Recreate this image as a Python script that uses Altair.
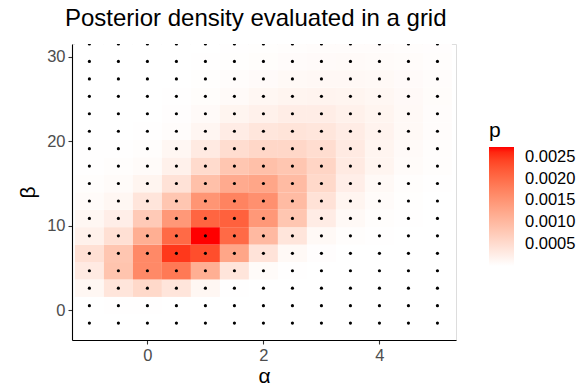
import altair as alt
import pandas as pd

# grid coordinates
alphas = [-1.0, -0.5, 0.0, 0.5, 1.0, 1.5, 2.0, 2.5, 3.0, 3.5, 4.0, 4.5, 5.0]
betas = [-1.5, 0.5625, 2.625, 4.6875, 6.75, 8.8125, 10.875, 12.9375, 15.0,
         17.0625, 19.125, 21.1875, 23.25, 25.3125, 27.375, 29.4375, 31.5]

# posterior density per grid cell, one row per beta (bottom to top), columns follow alphas
p_rows = [
    [0, 0, 0, 0, 0, 0, 0, 0, 0, 0, 0, 0, 0],
    [0.5e-5, 1.4e-5, 1.4e-5, 0.5e-5, 0, 0, 0, 0, 0, 0, 0, 0, 0],
    [12e-5, 37e-5, 55e-5, 37e-5, 12e-5, 1.4e-5, 0, 0, 0, 0, 0, 0, 0],
    [30e-5, 85e-5, 165e-5, 185e-5, 115e-5, 37e-5, 6e-5, 1.4e-5, 0, 0, 0, 0, 0],
    [45e-5, 82e-5, 165e-5, 250e-5, 232e-5, 127e-5, 40e-5, 9e-5, 2.2e-5, 0, 0, 0, 0],
    [21e-5, 45e-5, 115e-5, 203e-5, 272e-5, 203e-5, 100e-5, 37e-5, 9e-5, 2.7e-5, 0.8e-5, 0, 0],
    [12e-5, 24e-5, 76e-5, 145e-5, 208e-5, 213e-5, 145e-5, 82e-5, 27e-5, 9e-5, 2.7e-5, 0.8e-5, 0],
    [6e-5, 12e-5, 37e-5, 82e-5, 150e-5, 173e-5, 156e-5, 97e-5, 42e-5, 15e-5, 6e-5, 1.6e-5, 0.5e-5],
    [3e-5, 6e-5, 15e-5, 42e-5, 91e-5, 121e-5, 127e-5, 97e-5, 55e-5, 24e-5, 9e-5, 3e-5, 1.1e-5],
    [1.4e-5, 3e-5, 6e-5, 21e-5, 52e-5, 82e-5, 91e-5, 82e-5, 61e-5, 30e-5, 15e-5, 6e-5, 3e-5],
    [0.8e-5, 1.4e-5, 3e-5, 12e-5, 30e-5, 49e-5, 58e-5, 58e-5, 49e-5, 30e-5, 15e-5, 7.5e-5, 3e-5],
    [0.3e-5, 0.5e-5, 1.4e-5, 4.5e-5, 13.5e-5, 27e-5, 36e-5, 39e-5, 36e-5, 27e-5, 18e-5, 9e-5, 4.5e-5],
    [0, 0.3e-5, 0.5e-5, 2.4e-5, 7.5e-5, 15e-5, 21e-5, 25.5e-5, 25.5e-5, 21e-5, 15e-5, 9e-5, 4.5e-5],
    [0, 0, 0.3e-5, 1.2e-5, 3.6e-5, 7.5e-5, 12e-5, 15e-5, 16.5e-5, 15e-5, 12e-5, 8.4e-5, 4.8e-5],
    [0, 0, 0, 0.5e-5, 1.8e-5, 3.9e-5, 6.6e-5, 9e-5, 10.5e-5, 10.2e-5, 9e-5, 6.6e-5, 4.2e-5],
    [0, 0, 0, 0.3e-5, 0.9e-5, 2.1e-5, 3.6e-5, 5.4e-5, 6.6e-5, 6.9e-5, 6.3e-5, 4.8e-5, 3.3e-5],
    [0, 0, 0, 0, 0.3e-5, 1.2e-5, 2.1e-5, 3.3e-5, 4.2e-5, 4.5e-5, 4.2e-5, 3.3e-5, 2.4e-5],
]

legend_values = [0.0005, 0.0010, 0.0015, 0.0020, 0.0025]
x_ticks = [0, 2, 4]
y_ticks = [0, 10, 20, 30]

rows = []
for bi, b in enumerate(betas):
    for ai, a in enumerate(alphas):
        rows.append({"alpha": a, "beta": b, "p": p_rows[bi][ai]})
df = pd.DataFrame(rows)

FONT = "Liberation Sans"
half_a = (alphas[1] - alphas[0]) / 2
half_b = (betas[1] - betas[0]) / 2

xscale = alt.Scale(domain=[-1.3, 5.32], nice=False, zero=False)
yscale = alt.Scale(domain=[-3.5, 31.5], nice=False, zero=False)

xaxis = alt.Axis(values=x_ticks, title="α", grid=False, domainColor="black", domainWidth=1.1,
                 tickColor="#333333", tickSize=4, tickWidth=1.1, labelColor="#4D4D4D",
                 labelFontSize=16.5, labelFont=FONT, labelPadding=3, titleFont=FONT,
                 titleFontSize=21, titleFontWeight="normal", titleColor="black",
                 titleBaseline="alphabetic", titleY=42)
yaxis = alt.Axis(values=y_ticks, title="β", grid=False, domainColor="black", domainWidth=1.1,
                 tickColor="#333333", tickSize=4, tickWidth=1.1, labelColor="#4D4D4D",
                 labelFontSize=16.5, labelFont=FONT, labelPadding=3, titleFont=FONT,
                 titleFontSize=21, titleFontWeight="normal", titleColor="black", titlePadding=8)

tiles = alt.Chart(df).transform_calculate(
    a0=f"datum.alpha - {half_a}", a1=f"datum.alpha + {half_a}",
    b0=f"datum.beta - {half_b}", b1=f"datum.beta + {half_b}",
).mark_rect(clip=True, strokeWidth=0).encode(
    x=alt.X("a0:Q", scale=xscale, axis=xaxis),
    x2="a1:Q",
    y=alt.Y("b0:Q", scale=yscale, axis=yaxis),
    y2="b1:Q",
    color=alt.Color("p:Q",
                    scale=alt.Scale(domain=[0, 0.00272], range=["#FFFFFF", "#FF0000"],
                                    interpolate="lab", nice=False, zero=False),
                    legend=alt.Legend(title="p", values=legend_values, format=".4f",
                                      orient="none", legendX=417, legendY=76,
                                      gradientLength=119, gradientThickness=25,
                                      gradientStrokeWidth=0, labelFont=FONT,
                                      labelFontSize=16.5, labelColor="black",
                                      labelOffset=11, titleFont=FONT, titleFontSize=21,
                                      titleFontWeight="normal", titlePadding=6,
                                      tickCount=5)),
)

points = alt.Chart(df).mark_point(filled=True, color="black", size=10, opacity=1, clip=True).encode(
    x=alt.X("alpha:Q", scale=xscale, axis=xaxis),
    y=alt.Y("beta:Q", scale=yscale, axis=yaxis),
)

chart = alt.layer(tiles, points).properties(
    width=384, height=296,
    title=alt.TitleParams("Posterior density evaluated in a grid", anchor="start", frame="group",
                          font=FONT, fontSize=24, fontWeight="normal", color="black",
                          dx=-7, offset=13),
    autosize=alt.AutoSizeParams(type="none"),
    padding={"left": 72, "top": 44, "right": 125, "bottom": 45},
).configure_view(stroke=None).configure(background="white")

chart.save("out.html", embed_options={"renderer": "svg", "actions": False})
